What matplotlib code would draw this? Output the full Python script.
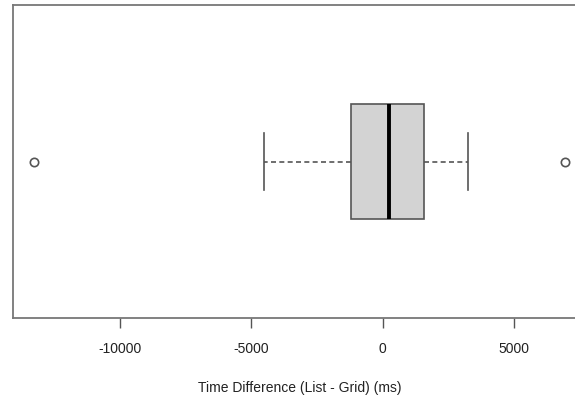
import matplotlib.pyplot as plt

plt.rcParams['font.family'] = ['Liberation Sans', 'DejaVu Sans']

# five-number summary (ms)
whisker_low = -4540
q1 = -1195
median = 256
q3 = 1565
whisker_high = 3244
outliers = [-13282, 6947]

xticks = [-10000, -5000, 0, 5000]
xlabel = "Time Difference (List - Grid) (ms)"

stats = [dict(whislo=whisker_low, q1=q1, med=median, q3=q3,
              whishi=whisker_high, fliers=outliers)]

fig = plt.figure(figsize=(5.75, 4), dpi=100)
# axes right edge runs past the figure (the original is cropped)
ax = fig.add_axes([13 / 575, 82 / 400, 573 / 575, 313 / 400])

line_col = '#555555'
ax.bxp(stats, vert=False, positions=[1], widths=0.367, capwidths=0.185,
       patch_artist=True,
       boxprops=dict(facecolor='#d3d3d3', edgecolor=line_col, linewidth=1.2),
       medianprops=dict(color='black', linewidth=2.8, solid_capstyle='butt'),
       whiskerprops=dict(color=line_col, linewidth=1.2, linestyle=(0, (3, 2))),
       capprops=dict(color=line_col, linewidth=1.2),
       flierprops=dict(marker='o', markersize=6, markerfacecolor='none',
                       markeredgecolor=line_col, markeredgewidth=1.2))

span = outliers[1] - outliers[0]
ax.set_xlim(outliers[0] - 0.04 * span, outliers[1] + 0.04 * span)
ax.set_ylim(0.5, 1.5)
ax.set_yticks([])
ax.set_xticks(xticks)
ax.set_xticklabels([str(t) for t in xticks], fontsize=10, color='#222222')
ax.tick_params(axis='x', length=7, width=1, color=line_col, pad=10)
for s in ax.spines.values():
    s.set_color('#777777')
    s.set_linewidth(1.3)
ax.set_xlabel(xlabel, fontsize=10, color='#222222', labelpad=18)

fig.savefig('out.png', dpi=100, facecolor='white')
